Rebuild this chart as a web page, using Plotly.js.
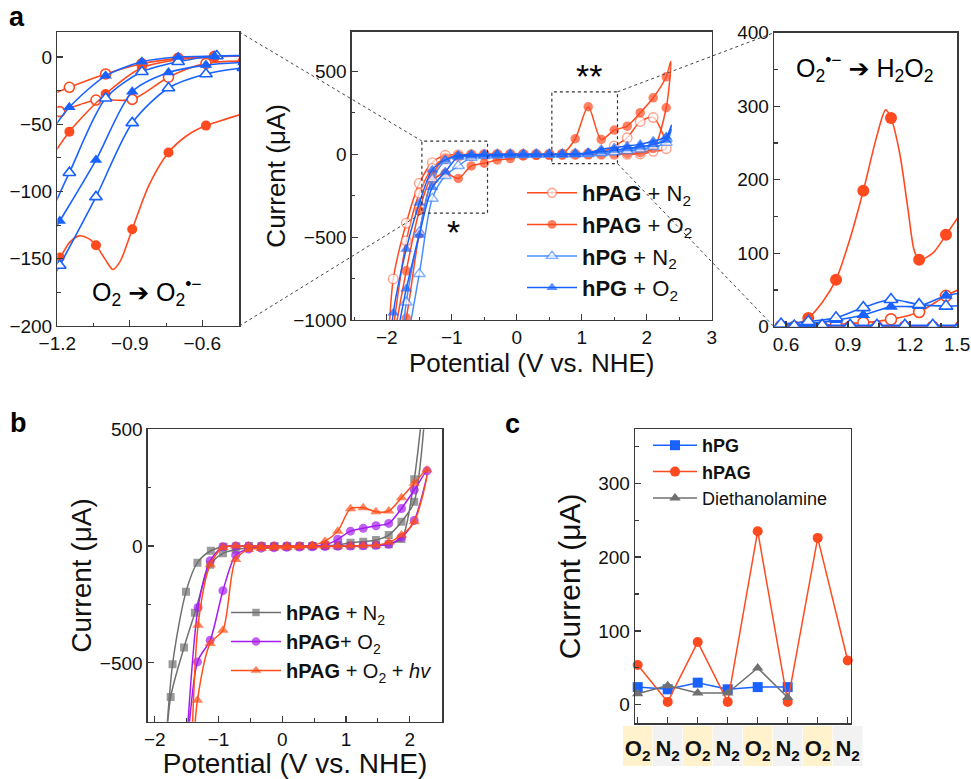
<!DOCTYPE html>
<html><head><meta charset="utf-8">
<script src="https://cdn.plot.ly/plotly-3.0.1.min.js"></script>
<style>html,body{margin:0;padding:0;background:#fff;}#chart{width:971px;height:779px;}</style>
</head><body><div id="chart"></div>
<script>
// ================= DATA =================
// ---- Panel a, main CV (V vs NHE, µA): anodic branch (rising potential), cathodic branch (falling potential), vertices
const pagN2_ax = [-1.9,-1.7,-1.5,-1.3,-1.1,-0.9,-0.7,-0.5,-0.3,-0.1,0.1,0.3,0.5,0.7,0.9,1.1,1.3,1.5,1.7,1.9,2.1,2.3];
const pagN2_ay = [-752,-415,-175,-50,-6,-2,-1,0,0,0,0,0,0,1,2,5,12,50,100,198,222,34];
const pagN2_cx = [2.1,1.9,1.7,1.5,1.3,1.1,0.9,0.7,0.5,0.3,0.1,-0.1,-0.3,-0.5,-0.7,-0.9,-1.1,-1.3,-1.5,-1.7];
const pagN2_cy = [18,2,0,0,0,0,-1,-1,-2,-2,-3,-4,-5,-6,-8,-12,-25,-85,-235,-522];
const pagN2_vpos = null, pagN2_vneg = [-1.98,-1250];

const pagO2_ax = [-1.9,-1.7,-1.5,-1.3,-1.1,-0.9,-0.7,-0.5,-0.3,-0.1,0.1,0.3,0.5,0.7,0.9,1.1,1.3,1.5,1.7,1.9,2.1,2.3];
const pagO2_ay = [-1150,-703,-341,-120,-30,-8,-3,-2,-1,0,0,0,0,3,94,287,90,146,170,251,341,468];
const pagO2_cx = [2.3,2.1,1.9,1.7,1.5,1.3,1.1,0.9,0.7,0.5,0.3,0.1,-0.1,-0.3,-0.5,-0.7,-0.9,-1.1,-1.3,-1.5,-1.7];
const pagO2_cy = [281,35,10,5,3,1,0,-1,-2,-3,-6,-10,-26,-34,-54,-70,-146,-115,-160,-480,-988];
const pagO2_vpos = [2.37,560], pagO2_vneg = [-1.96,-1450];

const pgN2_ax = [-1.7,-1.5,-1.3,-1.1,-0.9,-0.7,-0.5,-0.3,-0.1,0.1,0.3,0.5,0.7,0.9,1.1,1.3,1.5,1.7,1.9,2.1,2.3];
const pgN2_ay = [-894,-470,-150,-40,-12,-5,-3,-2,-1,0,0,0,0,1,3,8,16,28,42,60,95];
const pgN2_cx = [2.3,2.1,1.9,1.7,1.5,1.3,1.1,0.9,0.7,0.5,0.3,0.1,-0.1,-0.3,-0.5,-0.7,-0.9,-1.1,-1.3,-1.5];
const pgN2_cy = [70,45,30,20,12,8,4,2,0,-1,-2,-3,-4,-6,-10,-20,-70,-130,-267,-722];
const pgN2_vpos = [2.38,150], pgN2_vneg = [-1.82,-1400];

const pgO2_ax = [-1.9,-1.7,-1.5,-1.3,-1.1,-0.9,-0.7,-0.5,-0.3,-0.1,0.1,0.3,0.5,0.7,0.9,1.1,1.3,1.5,1.7,1.9,2.1,2.3];
const pgO2_ay = [-957,-572,-295,-94,-34,-6,-2,-1,0,0,0,0,0,0,1,8,30,40,50,60,80,106];
const pgO2_cx = [2.3,2.1,1.9,1.7,1.5,1.3,1.1,0.9,0.7,0.5,0.3,0.1,-0.1,-0.3,-0.5,-0.7,-0.9,-1.1,-1.3,-1.5,-1.7];
const pgO2_cy = [85,60,45,35,25,15,8,3,0,-1,-2,-3,-4,-5,-8,-10,-15,-106,-200,-487,-812];
const pgO2_vpos = [2.38,175], pgO2_vneg = [-1.98,-1350];

// zoom windows drawn on main panel (V, µA)
const win1_x = [-1.46,-0.45], win1_y = [-355,80];
const win2_x = [0.54,1.55],   win2_y = [-56,377];

// ---- Panel a, left inset (two branches separated by null)
const lPagN2_x = [-1.25,-1.15,-1.0,-0.85,-0.70,-0.55,-0.40,null,-1.25,-1.19,-1.04,-0.89,-0.74,-0.585,-0.43];
const lPagN2_y = [-30,-22.5,-12.6,-5,-1,0.5,1,null,-44,-40.6,-32,-31.5,-15,-4.7,-3];
const lPagO2_x = [-1.25,-1.15,-1.0,-0.85,-0.70,-0.55,-0.40];
const lPagO2_y = [-82,-55.5,-27.5,-8,-2,0,1];
const lPagO2_lineX = [-1.22,-1.19,-1.15,-1.11,-1.07,-1.04,-1.0,-0.97,-0.94,-0.89,-0.82,-0.74,-0.66,-0.585,-0.5,-0.43];
const lPagO2_lineY = [-152,-149,-138,-133,-135,-140,-151,-158,-152,-128,-95,-71,-58,-51,-46,-42];
const lPagO2_markX = [-1.19,-1.04,-0.89,-0.74,-0.585];
const lPagO2_markY = [-149,-140,-128,-71,-51];
const lPgN2_x = [-1.25,-1.15,-1.0,-0.85,-0.70,-0.54,-0.40,null,-1.25,-1.19,-1.04,-0.89,-0.74,-0.585,-0.43];
const lPgN2_y = [-125,-86,-30.7,-11,-3.5,0.7,1,null,-175,-155,-104,-49,-23,-12.6,-8];
const lPgO2_x = [-1.25,-1.15,-1.0,-0.85,-0.70,-0.55,-0.40,null,-1.25,-1.19,-1.04,-0.89,-0.74,-0.585,-0.43];
const lPgO2_y = [-62,-37.4,-14,-3.5,0,0.7,1,null,-140,-122,-76.6,-25.8,-11.6,-6,-4];

// ---- Panel a, right inset
const rA = [0.576,0.708,0.842,0.974,1.108,1.244,1.374,1.508];
const rB = [0.64,0.775,0.91,1.04,1.175,1.31,1.445];
const rPagN2_A = [1,2,3,5.5,10,20,42,60];
const rPagN2_B = [0,0,0,0,0,0,0];
const rPagO2_lineX = [0.54,0.576,0.64,0.708,0.775,0.842,0.91,0.974,1.04,1.082,1.108,1.15,1.19,1.22,1.244,1.31,1.374,1.43];
const rPagO2_lineY = [0,1,3,12,33,64,120,185,260,295,284,236,160,104,91,100,125,148];
const rPagO2_markX = [0.708,0.842,0.974,1.108,1.244,1.374];
const rPagO2_markY = [12,64,185,284,91,125];
const rPagO2_B = [0,0,0,0,0,0,0];
const rPgN2_A = [3.6,7,12,26,37,30,28,30];
const rPgN2_B = [1,2,2,2,2,2,2];
const rPgO2_A = [2,4,9,16,27,28,42,48];
const rPgO2_B = [0,1,1,1,1,1,1];

// ---- Panel b
const bN2_ax = [-1.72,-1.51,-1.33,-1.12,-0.92,-0.72,-0.52,-0.32,-0.12,0.08,0.28,0.48,0.68,0.88,1.07,1.27,1.47,1.67,1.87,2.07];
const bN2_ay = [-506,-196,-71,-20,-3,-1,0,0,0,0,0,0,2,5,14,19,26,47,104,190];
const bN2_cx = [2.07,1.87,1.67,1.47,1.27,1.07,0.87,0.67,0.47,0.27,0.07,-0.13,-0.33,-0.53,-0.73,-0.93,-1.13,-1.37,-1.54,-1.75];
const bN2_cy = [286,30,8,4,2,1,0,0,-1,-2,-3,-4,-5,-8,-15,-31,-80,-286,-434,-646];
const bN2_vpos = [2.32,900], bN2_vneg = [-1.85,-950];

const bO2_ax = [-1.32,-1.13,-0.93,-0.73,-0.53,-0.33,-0.13,0.07,0.27,0.47,0.67,0.87,1.07,1.27,1.47,1.67,1.87,2.07,2.27];
const bO2_ay = [-263,-63,-3,0,0,0,0,0,0,1,5,29,64,76,87,97,161,240,322];
const bO2_cx = [2.07,1.87,1.67,1.47,1.27,1.07,0.87,0.67,0.47,0.27,0.07,-0.13,-0.33,-0.53,-0.73,-0.93,-1.13,-1.33];
const bO2_cy = [110,37,8,3,1,0,-1,-2,-3,-4,-5,-7,-9,-13,-39,-191,-403,-496];
const bO2_vpos = null, bO2_vneg = [-1.53,-1000];

const bHv_ax = [-1.32,-1.13,-0.93,-0.73,-0.53,-0.33,-0.13,0.07,0.27,0.47,0.67,0.87,1.07,1.27,1.47,1.67,1.87,2.07,2.27];
const bHv_ay = [-339,-80,-6,0,0,0,0,0,0,3,21,64,160,164,147,150,207,269,326];
const bHv_cx = [2.07,1.87,1.67,1.47,1.27,1.07,0.87,0.67,0.47,0.27,0.07,-0.13,-0.33,-0.53,-0.73,-0.93,-1.13,-1.33];
const bHv_cy = [104,47,16,4,2,1,0,-1,-2,-4,-6,-8,-10,-15,-57,-360,-417,-660];
const bHv_vpos = null, bHv_vneg = [-1.43,-1000];

// ---- Panel c
const cCats = ['O2','N2','O2','N2','O2','N2','O2','N2'];
const cPG   = [24,21,30,21,24,24];
const cPAG  = [54,4,85,4,235,4,226,60];
const cDEA  = [15,26,16,16,50,10];

// ================= STYLE / LAYOUT =================
const W = 971, H = 779;
const FONT = 'Arial, "Liberation Sans", sans-serif';
const RED = '#FF4A1F', RED_L = '#FF7A5C', BLUE = '#1A62FF', BLUE_L = '#4A8CFF';
const PURPLE = '#A51CF0', ORANGE = '#FF4E1A', GRAY = '#707070';

const dx = (a,b)=>[a/W, b/W];
const dy = (top,bottom)=>[1-bottom/H, 1-top/H];

const X1 = dx(57.3,239.3),  Y1 = dy(32,326),    R1x=[-1.2,-0.447], R1y=[-200,18.6];
const X2 = dx(351.7,711.7), Y2 = dy(31.7,320),  R2x=[-2.54,3.0],   R2y=[-1000,740];
const X3 = dx(774,957.3),   Y3 = dy(32.7,326.7),R3x=[0.542,1.4287],R3y=[0,400];
const X4 = dx(147.7,442.3), Y4 = dy(429.3,721.7),R4x=[-2.11,2.51], R4y=[-752,500];
const X5 = dx(635,850.7),   Y5 = dy(429.3,723.3),R5x=[-0.09,7.1],  R5y=[-25,373];

const toP = (dom, rng, v)=> dom[0] + (v-rng[0])/(rng[1]-rng[0])*(dom[1]-dom[0]);

function axis(o, minor){
  return Object.assign({
    showline:true, linecolor:'#3a3a3a', linewidth:1.3, mirror:true,
    ticks:'inside', ticklen:6, tickwidth:1.2, tickcolor:'#3a3a3a',
    showgrid:false, zeroline:false, fixedrange:true,
    tickfont:{family:FONT, size:19, color:'#111'},
    minor:Object.assign({ticks:'inside', ticklen:3.5, tickwidth:1.1, tickcolor:'#3a3a3a', showgrid:false}, minor||{})
  }, o);
}

function buildLoop(ax, ay, cx, cy, vpos, vneg){
  const x=[], y=[], m=[];
  if(vneg){x.push(vneg[0]); y.push(vneg[1]); m.push(0);}
  ax.forEach((v,i)=>{x.push(v); y.push(ay[i]); m.push(1);});
  if(vpos){x.push(vpos[0]); y.push(vpos[1]); m.push(0);}
  cx.forEach((v,i)=>{x.push(v); y.push(cy[i]); m.push(1);});
  if(vneg){x.push(vneg[0]); y.push(vneg[1]); m.push(0);}
  return {x, y, m};
}

function loopTrace(L, name, color, mcolor, symbol, open, size, xa, ya, legend){
  return {type:'scatter', mode:'lines+markers', x:L.x, y:L.y, xaxis:xa, yaxis:ya,
    name:name, legend:legend, showlegend:true, hoverinfo:'skip', cliponaxis:true,
    line:{color:color, width:1.5, shape:'spline', smoothing:0.8},
    marker:{symbol:symbol, size:L.m.map(k=>k?size:0),
      color: open ? '#ffffff' : mcolor,
      line:{color:mcolor, width:L.m.map(k=>k?(open?1.4:0):0)}}};
}

function inset(x, y, color, symbol, open, size, xa, ya, mode){
  return {type:'scatter', mode:mode||'lines+markers', x:x, y:y, xaxis:xa, yaxis:ya,
    showlegend:false, hoverinfo:'skip', connectgaps:false, cliponaxis:true,
    line:{color:color, width:1.6, shape:'spline', smoothing:0.8},
    marker:{symbol:symbol, size:size, color: open ? '#ffffff' : color, line:{color:color, width: open?1.6:0}}};
}

const traces = [];
// ---- main panel a
traces.push(loopTrace(buildLoop(pagN2_ax,pagN2_ay,pagN2_cx,pagN2_cy,pagN2_vpos,pagN2_vneg),
  '<b>hPAG</b> + N<sub>2</sub>', RED, RED_L, 'circle', true, 9.5, 'x2','y2','legend'));
traces.push(loopTrace(buildLoop(pagO2_ax,pagO2_ay,pagO2_cx,pagO2_cy,pagO2_vpos,pagO2_vneg),
  '<b>hPAG</b> + O<sub>2</sub>', RED, RED, 'circle', false, 9.5, 'x2','y2','legend'));
traces.push(loopTrace(buildLoop(pgN2_ax,pgN2_ay,pgN2_cx,pgN2_cy,pgN2_vpos,pgN2_vneg),
  '<b>hPG</b> + N<sub>2</sub>', BLUE_L, BLUE_L, 'triangle-up', true, 10.5, 'x2','y2','legend'));
traces.push(loopTrace(buildLoop(pgO2_ax,pgO2_ay,pgO2_cx,pgO2_cy,pgO2_vpos,pgO2_vneg),
  '<b>hPG</b> + O<sub>2</sub>', BLUE, BLUE, 'triangle-up', false, 10.5, 'x2','y2','legend'));

// ---- left inset
traces.push(inset(lPagN2_x, lPagN2_y, RED, 'circle', true, 10, 'x','y'));
traces.push(inset(lPagO2_x, lPagO2_y, RED, 'circle', false, 10, 'x','y'));
traces.push(inset(lPagO2_lineX, lPagO2_lineY, RED, 'circle', false, 10, 'x','y','lines'));
traces.push(inset(lPagO2_markX, lPagO2_markY, RED, 'circle', false, 10, 'x','y','markers'));
traces.push(inset(lPgN2_x, lPgN2_y, BLUE, 'triangle-up', true, 11, 'x','y'));
traces.push(inset(lPgO2_x, lPgO2_y, BLUE, 'triangle-up', false, 11, 'x','y'));

// ---- right inset
const rAB = rA.concat([null], rB);
traces.push(inset(rAB, rPagN2_A.concat([null], rPagN2_B), RED, 'circle', true, 11, 'x3','y3'));
traces.push(inset(rB, rPagO2_B, RED, 'circle', false, 11, 'x3','y3'));
traces.push(inset(rPagO2_lineX, rPagO2_lineY, RED, 'circle', false, 11, 'x3','y3','lines'));
traces.push(inset(rPagO2_markX, rPagO2_markY, RED, 'circle', false, 12, 'x3','y3','markers'));
traces.push(inset(rAB, rPgO2_A.concat([null], rPgO2_B), BLUE, 'triangle-up', false, 12, 'x3','y3'));
traces.push(inset(rAB, rPgN2_A.concat([null], rPgN2_B), BLUE, 'triangle-up', true, 12, 'x3','y3'));

// ---- panel b
traces.push(loopTrace(buildLoop(bN2_ax,bN2_ay,bN2_cx,bN2_cy,bN2_vpos,bN2_vneg),
  '<b>hPAG</b> + N<sub>2</sub>', GRAY, GRAY, 'square', false, 8, 'x4','y4','legend2'));
traces.push(loopTrace(buildLoop(bO2_ax,bO2_ay,bO2_cx,bO2_cy,bO2_vpos,bO2_vneg),
  '<b>hPAG</b>+ O<sub>2</sub>', PURPLE, PURPLE, 'circle', false, 9, 'x4','y4','legend2'));
traces.push(loopTrace(buildLoop(bHv_ax,bHv_ay,bHv_cx,bHv_cy,bHv_vpos,bHv_vneg),
  '<b>hPAG</b> + O<sub>2</sub> + <i>hv</i>', ORANGE, ORANGE, 'triangle-up', false, 10, 'x4','y4','legend2'));

// ---- panel c
const cIdx = cCats.map((_,i)=>i);
function cTrace(vals, name, color, symbol){
  return {type:'scatter', mode:'lines+markers', x:cIdx.slice(0,vals.length), y:vals, xaxis:'x5', yaxis:'y5',
    name:name, legend:'legend3', hoverinfo:'skip', cliponaxis:false,
    line:{color:color, width:1.5}, marker:{symbol:symbol, size:10, color:color}};
}
traces.push(cTrace(cPG, '<b>hPG</b>', BLUE, 'square'));
traces.push(cTrace(cPAG, '<b>hPAG</b>', RED, 'circle'));
traces.push(cTrace(cDEA, 'Diethanolamine', GRAY, 'triangle-up'));

// ---- shapes
const shapes = [];
const dot = {color:'#444', width:1, dash:'dot'};
shapes.push({type:'rect', xref:'x2', yref:'y2', x0:win1_x[0], x1:win1_x[1], y0:win1_y[0], y1:win1_y[1], line:{color:'#333', width:1.2, dash:'dot'}});
shapes.push({type:'rect', xref:'x2', yref:'y2', x0:win2_x[0], x1:win2_x[1], y0:win2_y[0], y1:win2_y[1], line:{color:'#333', width:1.2, dash:'dot'}});
shapes.push({type:'line', xref:'paper', yref:'paper', x0:X1[1], y0:Y1[1], x1:toP(X2,R2x,win1_x[0]), y1:toP(Y2,R2y,win1_y[1]), line:dot});
shapes.push({type:'line', xref:'paper', yref:'paper', x0:X1[1], y0:Y1[0], x1:toP(X2,R2x,win1_x[0]), y1:toP(Y2,R2y,win1_y[0]), line:dot});
shapes.push({type:'line', xref:'paper', yref:'paper', x0:toP(X2,R2x,win2_x[1]), y0:toP(Y2,R2y,win2_y[1]), x1:X3[0], y1:Y3[1], line:dot});
shapes.push({type:'line', xref:'paper', yref:'paper', x0:toP(X2,R2x,win2_x[1]), y0:toP(Y2,R2y,win2_y[0]), x1:X3[0], y1:Y3[0], line:dot});
// panel c category label cells
const cellY = dy(726,766);
cCats.forEach((c,i)=>{
  shapes.push({type:'rect', xref:'paper', yref:'paper', layer:'below',
    x0:toP(X5,R5x,i-0.49), x1:toP(X5,R5x,i+0.49), y0:cellY[0], y1:cellY[1],
    fillcolor: c==='O2' ? '#FFF2CC' : '#F2F2F2', line:{width:0}});
});

// ---- annotations
const ARROW_FONT = 'Arial, "Liberation Sans", "DejaVu Sans", sans-serif';
const lab = (t,px,py)=>({text:'<b>'+t+'</b>', xref:'paper', yref:'paper', x:px/W, y:1-py/H, xanchor:'center', yanchor:'middle',
  showarrow:false, font:{size:27, family:FONT, color:'#000'}});
const ann = [
  lab('a',17,17), lab('b',18,423), lab('c',512,424),
  {text:'*', xref:'x2', yref:'y2', x:-0.975, y:-470, showarrow:false, font:{size:34, family:FONT, color:'#000'}},
  {text:'**', xref:'x2', yref:'y2', x:1.115, y:470, showarrow:false, font:{size:34, family:FONT, color:'#000'}},
  {text:'O<sub>2</sub> ➔ O<sub>2</sub><sup>•−</sup>', xref:'x', yref:'y', x:-0.83, y:-175, showarrow:false, font:{size:25, family:ARROW_FONT, color:'#000'}},
  {text:'O<sub>2</sub><sup>•−</sup> ➔ H<sub>2</sub>O<sub>2</sub>', xref:'x3', yref:'y3', x:0.98, y:352, showarrow:false, font:{size:25, family:ARROW_FONT, color:'#000'}}
];

const layout = {
  width:W, height:H, margin:{l:0,r:0,t:0,b:0},
  paper_bgcolor:'#ffffff', plot_bgcolor:'rgba(0,0,0,0)',
  font:{family:FONT, size:19, color:'#111'},
  xaxis: axis({domain:X1, range:R1x, anchor:'y', tick0:-1.2, dtick:0.3}, {tick0:-1.2, dtick:0.15}),
  yaxis: axis({domain:Y1, range:R1y, anchor:'x', tick0:0, dtick:50}, {tick0:0, dtick:25}),
  xaxis2: axis({domain:X2, range:R2x, anchor:'y2', tick0:0, dtick:1,
    title:{text:'Potential (V vs. NHE)', font:{size:26, family:FONT, color:'#111'}, standoff:6}}, {tick0:0, dtick:0.5}),
  yaxis2: axis({domain:Y2, range:R2y, anchor:'x2', tick0:0, dtick:500,
    title:{text:'Current (μA)', font:{size:26, family:FONT, color:'#111'}, standoff:0}}, {tick0:0, dtick:250}),
  xaxis3: axis({domain:X3, range:R3x, anchor:'y3', tickmode:'array', tickvals:[0.6,0.9,1.2,1.428], ticktext:['0.6','0.9','1.2','1.5']}, {tickmode:'array', tickvals:[0.75,1.05,1.35]}),
  yaxis3: axis({domain:Y3, range:R3y, anchor:'x3', tick0:0, dtick:100}, {tick0:0, dtick:50}),
  xaxis4: axis({domain:X4, range:R4x, anchor:'y4', tick0:0, dtick:1,
    title:{text:'Potential (V vs. NHE)', font:{size:28, family:FONT, color:'#111'}, standoff:4}}, {tick0:0, dtick:0.5}),
  yaxis4: axis({domain:Y4, range:R4y, anchor:'x4', tick0:0, dtick:500,
    title:{text:'Current (μA)', font:{size:28, family:FONT, color:'#111'}, standoff:0}}, {tick0:0, dtick:250}),
  xaxis5: axis({domain:X5, range:R5x, anchor:'y5', tickmode:'array', tickvals:cIdx,
    ticktext:cCats.map(c=>'<b>'+c[0]+'<sub>'+c[1]+'</sub></b>'), ticklabelstandoff:5,
    tickfont:{size:22, family:FONT, color:'#111'}}, {ticks:''}),
  yaxis5: axis({domain:Y5, range:R5y, anchor:'x5', tick0:0, dtick:100,
    title:{text:'Current (μA)', font:{size:30, family:FONT, color:'#111'}, standoff:8}}, {tick0:0, dtick:50}),
  legend: {x:522/W, y:1-172/H, xanchor:'left', yanchor:'top', bgcolor:'rgba(0,0,0,0)', itemwidth:50,
    font:{size:22, family:FONT, color:'#111'}, tracegroupgap:0},
  legend2: {x:226/W, y:1-593/H, xanchor:'left', yanchor:'top', bgcolor:'rgba(0,0,0,0)', itemwidth:50,
    font:{size:20, family:FONT, color:'#111'}},
  legend3: {x:648/W, y:1-427/H, xanchor:'left', yanchor:'top', bgcolor:'rgba(0,0,0,0)', itemwidth:44,
    font:{size:18, family:FONT, color:'#111'}},
  shapes: shapes,
  annotations: ann
};

Plotly.newPlot('chart', traces, layout, {staticPlot:true, displayModeBar:false});
</script></body></html>
